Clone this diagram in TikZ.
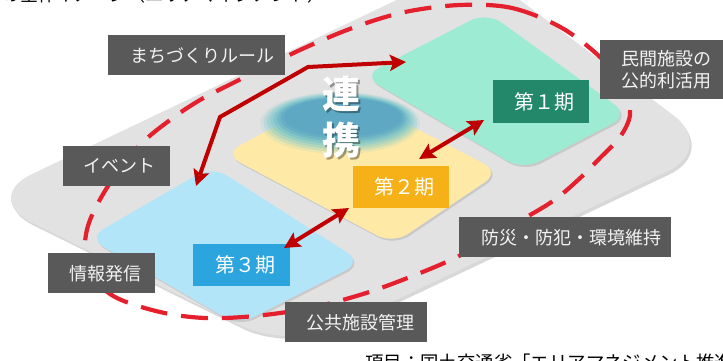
\documentclass[tikz,border=0pt]{standalone}
\usepackage{fontspec}
\newfontfamily\cjk{Noto Sans CJK JP}
\usetikzlibrary{arrows.meta,shadows}
\definecolor{basegray}{HTML}{E2E2E2}
\definecolor{labelgray}{HTML}{595959}
\definecolor{grn}{HTML}{9DEBD3}
\definecolor{grnbox}{HTML}{23876A}
\definecolor{yel}{HTML}{FFE9A7}
\definecolor{yelbox}{HTML}{F5B117}
\definecolor{blu}{HTML}{B3E5F9}
\definecolor{blubox}{HTML}{2CA5DF}
\definecolor{reddash}{HTML}{E5202E}
\definecolor{redarrow}{HTML}{C00000}
\definecolor{tealA}{HTML}{7FCACB}
\definecolor{tealB}{HTML}{529FC3}
\tikzset{
  lbl/.style={fill=labelgray, text=white!95!black, font=\cjk\fontsize{18}{22}\selectfont, inner sep=0pt, anchor=north west, align=center},
  period/.style={text=white, font=\cjk\fontsize{20}{24}\selectfont, inner sep=0pt, anchor=north west},
  plate/.style={rounded corners=18pt, drop shadow={shadow xshift=1.5pt, shadow yshift=-2pt, opacity=0.25}},
  dashring/.style={draw=reddash, line width=4.2pt, dash pattern=on 27pt off 14pt},
  redarr/.style={draw=redarrow, line width=4pt, {Stealth[length=16pt,width=16pt,inset=3pt]}-{Stealth[length=16pt,width=16pt,inset=3pt]}},
  bigchar/.style={font=\cjk\bfseries\fontsize{38}{38}\selectfont},
}
\begin{document}
\begin{tikzpicture}[x=1pt,y=-1pt]
\useasboundingbox (0,0) rectangle (723,360);
\clip (0,0) rectangle (723,360);
\fill[white] (0,0) rectangle (723,360);
% title (cut at top)
\node[font=\cjk\fontsize{18}{18}\selectfont, anchor=base east, inner sep=0pt] (title) at (326,1) {取組みの全体イメージ（エリアマネジメント）};
% base
\fill[basegray, rounded corners=55pt, drop shadow={shadow xshift=2pt, shadow yshift=-3pt, opacity=0.3}] (-18,198) -- (472,-36) -- (717,148) -- (290,350) -- cycle;
% plates
\fill[grn, plate] (363,76) -- (487,12) -- (629,115) -- (523,170) -- cycle;
\fill[yel, plate] (224,154) -- (342,90) -- (500,172) -- (393,244) -- cycle;
\fill[blu, plate] (88,238) -- (212,166) -- (362,262) -- (238,325) -- cycle;
% renkei blur ellipse
\foreach \i/\c/\o in {0/tealA/0.15,1/tealA/0.25,2/tealA/0.35,3/tealA/0.5,4/tealB!40!tealA/0.45,5/tealB!70!tealA/0.45,6/tealB/0.4,7/tealB/0.35}{
  \fill[\c, opacity=\o] ({340+0.4*\i},{123-0.8*\i}) ellipse [x radius={80-3*\i}, y radius={31-1.7*\i}];
}
% dashed ring
\draw[dashring] plot[smooth cycle, tension=0.55] coordinates {(460,5) (512,8) (562,28) (603,60) (625,92) (630,115) (620,137) (600,158) (578,180) (550,203) (500,232) (457,257) (410,277) (363,294) (310,308) (255,316) (205,318) (160,312) (115,297) (92,275) (85,248) (90,220) (110,183) (140,145) (170,120) (200,100) (235,82) (300,50) (355,27) (405,12)};
% renkei text
\node[bigchar, text=black, opacity=0.35] (ren s) at (343,96) {連};
\node[bigchar, text=black, opacity=0.35] (kei s) at (343,142) {携};
\node[bigchar, text=white] (ren) at (341,94) {連};
\node[bigchar, text=white] (kei) at (341,140) {携};
% period boxes
\node[period, fill=grnbox, minimum width=96pt, minimum height=43pt] (p1) at (493,80) {\hspace*{7pt}第１期};
\node[period, fill=yelbox, minimum width=96pt, minimum height=42pt] (p2) at (353,166) {\hspace*{7pt}第２期};
\node[period, fill=blubox, minimum width=97pt, minimum height=42pt] (p3) at (193,244) {\hspace*{7pt}第３期};
% labels
\node[lbl, minimum width=177pt, minimum height=40pt] (rule) at (108,35) {\hspace*{12pt}まちづくりルール};
\node[lbl, minimum width=107pt, minimum height=40pt] (event) at (63,146) {\hspace*{6pt}イベント};
\node[lbl, minimum width=107pt, minimum height=40pt] (info) at (48,253) {\hspace*{7pt}情報発信};
\node[lbl, minimum width=142pt, minimum height=40pt] (pub) at (285,302) {\hspace*{8pt}公共施設管理};
\node[lbl, minimum width=212pt, minimum height=40pt] (safe) at (459,217) {\hspace*{12pt}防災・防犯・環境維持};
\node[lbl, minimum width=124pt, minimum height=59pt] (priv) at (600,40) {\hspace*{9pt}民間施設の\\\hspace*{9pt}公的利活用};
% arrows
\coordinate (a1) at (196,186);
\coordinate (a2) at (220,117);
\coordinate (a3) at (308,67);
\coordinate (a4) at (406,62);
\draw[redarr] (a1) -- (a2) -- (a3) -- (a4);
\coordinate (b1) at (484,120);
\coordinate (b2) at (419,159);
\draw[redarr] (b1) -- (b2);
\coordinate (c1) at (349,208);
\coordinate (c2) at (284,248);
\draw[redarr] (c1) -- (c2);
% source (cut at bottom)
\node[font=\cjk\fontsize{18.4}{20}\selectfont, anchor=base west, inner sep=0pt] (src) at (365,369) {項目：国土交通省「エリアマネジメント推進マニュアル」};
\end{tikzpicture}
\end{document}
